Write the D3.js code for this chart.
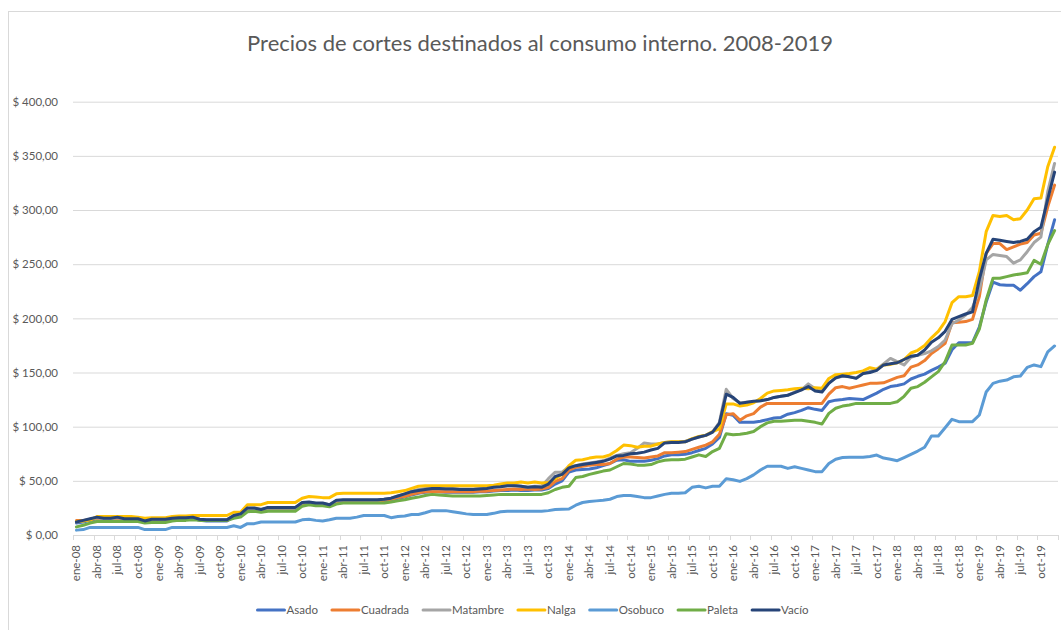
<!DOCTYPE html>
<html>
<head>
<meta charset="utf-8">
<script src="https://cdn.jsdelivr.net/npm/d3@7"></script>
<style>
  body { margin: 0; background: #fff; }
  svg text { font-family: Lato, "Open Sans", sans-serif; fill: #595959; }
</style>
</head>
<body>
<svg id="chart" width="1061" height="630"></svg>
<script>
// categories
const years = [2008, 2009, 2010, 2011, 2012, 2013, 2014, 2015, 2016, 2017, 2018, 2019];
const monthNames = ["ene", "feb", "mar", "abr", "may", "jun", "jul", "ago", "sep", "oct", "nov", "dic"];
const yTicks = [0, 50, 100, 150, 200, 250, 300, 350, 400];

const seriesNames = ["Asado", "Cuadrada", "Matambre", "Nalga", "Osobuco", "Paleta", "Vacío"];
const seriesColors = ["#4472C4", "#ED7D31", "#A5A5A5", "#FFC000", "#5B9BD5", "#70AD47", "#264478"];

// monthly prices, one row per year (ene..dic)
const asado = [
  11, 12, 13.5, 15, 14.5, 14.5, 15, 14.5, 14.5, 14.5, 13, 13.5,
  13.5, 13.5, 14.5, 15, 15, 15.5, 13.5, 13, 13, 13, 13, 16.5,
  18, 23.5, 23.5, 22.5, 24.5, 24.5, 24.5, 24.5, 24.5, 28, 29, 28,
  28, 27, 30, 30.5, 30.5, 30.5, 30.5, 30.5, 30.5, 31.5, 32.5, 34,
  35, 37, 38.5, 39.5, 40, 40, 39.5, 39.5, 39.5, 39.5, 39.5, 40,
  40, 40.5, 41, 41, 41.5, 41, 41, 41.5, 41.5, 43, 47, 50,
  58, 60, 60.5, 61, 62, 64, 66, 69, 69.5, 68, 68, 68,
  69, 70.5, 73, 74, 74, 74.5, 76, 78, 80, 84, 90, 112,
  110.5, 104, 104, 104, 105, 106.5, 108, 108.5, 111.5, 113, 115, 117.5,
  116, 115, 123, 124.5, 125, 126, 125.5, 125, 128, 131, 134.5, 137,
  138, 139.5, 144, 146.5, 148.5, 152, 155, 158.5, 171, 177.5, 177.5, 177.5,
  192, 215, 233.5, 231, 230.5, 230.5, 226, 232, 238.5, 243, 268, 291
];
const cuadrada = [
  13.5, 13.5, 14, 15.5, 15, 15, 15.5, 15, 15, 15, 13.5, 14,
  14, 14, 15, 15.5, 15.5, 16, 14, 13.5, 13.5, 13.5, 13.5, 17,
  18.5, 24, 24, 23, 25, 25, 25, 25, 25, 28.5, 29.5, 28.5,
  28.5, 27.5, 30.5, 31, 31, 31, 31, 31, 31, 32, 33, 34.5,
  35.5, 37.5, 39, 40, 40, 40, 40, 40, 40, 40, 40, 40.5,
  40.5, 41, 41.5, 42, 42.5, 42, 42.5, 42, 42.5, 44, 49.5, 52,
  60, 62.5, 63.5, 64.5, 65, 65, 66, 70, 72, 72, 71.5, 71,
  72, 73, 76, 76, 76.5, 77, 79, 81, 83, 86, 93, 111,
  112, 106, 110, 112, 118, 121.5, 121.5, 121.5, 121.5, 121.5, 121.5, 121.5,
  121.5, 121.5, 130, 136, 137, 135.5, 137, 138.5, 140, 140, 140.5, 143,
  145.5, 147, 155, 157, 161, 167.5, 172, 177, 196, 196.5, 197, 199,
  220, 260, 269, 269, 263.5, 266, 268.5, 270, 277, 278.5, 303, 323
];
const matambre = [
  12, 13, 14.5, 16, 15, 15, 16, 15, 15, 15, 13.5, 14.5,
  14.5, 14.5, 15.5, 16, 16, 16.5, 14.5, 14, 14, 14, 14, 18,
  19, 24.5, 24.5, 23.5, 25, 25, 25, 25, 25, 29.5, 30, 29,
  29, 28, 31.5, 32, 32, 32, 32, 32, 32, 33, 34, 36,
  38, 40.5, 42, 43, 44, 44, 43, 43, 42.5, 42.5, 42.5, 43,
  43.5, 44.5, 45, 45.5, 46, 45, 44, 45, 45, 52, 58, 58,
  63, 64, 65.5, 66.5, 67.5, 68.5, 71, 73.5, 75, 76, 80, 85,
  84, 84, 85.5, 86, 86, 86.5, 88.5, 90.5, 92, 95, 104, 134.5,
  126, 122, 122.5, 123, 124, 125, 127, 128, 129, 132, 134, 139.5,
  135, 133, 140.5, 145, 146.5, 146, 145, 149, 151, 153, 158, 163,
  160, 157, 164, 166, 167.5, 170, 174, 180, 195, 198.5, 203, 210,
  226, 254, 259, 258, 257, 251, 254, 261.5, 270, 275, 317, 343
];
const nalga = [
  12.5, 13, 14, 17, 17, 17, 17, 17, 17, 16.5, 15.5, 16,
  16, 16, 17, 17.5, 17.5, 18, 18, 18, 18, 18, 18, 21,
  21, 28, 28, 28, 30, 30, 30, 30, 30, 34, 35.5, 35,
  34.5, 34.5, 38, 38.5, 38.5, 38.5, 38.5, 38.5, 38.5, 38.5, 39, 40,
  41, 43, 45, 45.5, 45.5, 45.5, 45.5, 45.5, 45.5, 45.5, 45.5, 45.5,
  45.5, 46, 47, 48, 48, 49, 48, 49, 48, 48.5, 52, 56,
  64, 69, 69.5, 71, 72, 72, 74, 78, 83, 82.5, 81, 82,
  82, 84, 85.5, 86, 86, 86, 89, 91, 92, 95.5, 98, 121,
  121, 119, 120, 122, 126, 131, 133, 133.5, 134, 135, 135.5, 135,
  136, 135.5, 144.5, 148, 148.5, 149, 150, 151.5, 154.5, 153, 157, 157.5,
  159, 162, 168, 170.5, 175, 182, 188, 197, 214.5, 220, 220, 221,
  243, 280, 295, 294, 295, 291, 292, 300, 310.5, 311, 340, 358
];
const osobuco = [
  4.5, 5, 7, 7, 7, 7, 7, 7, 7, 7, 5, 5,
  5, 5, 7, 7, 7, 7, 7, 7, 7, 7, 7, 8.5,
  7, 10.5, 10.5, 12, 12, 12, 12, 12, 12, 14, 14.5, 13.5,
  13, 14, 15.5, 15.5, 15.5, 16.5, 18, 18, 18, 18, 16, 17,
  17.5, 19, 19, 20.5, 22.5, 22.5, 22.5, 21.5, 20.5, 19.5, 19, 19,
  19, 20, 21.5, 22, 22, 22, 22, 22, 22, 22.5, 23.5, 23.8,
  24, 27.5, 30, 31, 31.5, 32, 33, 35.5, 36.5, 36.5, 35.5, 34.5,
  34.5, 36, 37.5, 38.5, 38.5, 39, 44, 45, 43.5, 45, 45, 52,
  51, 49.5, 52, 55.5, 60, 63.5, 63.5, 63.5, 61.5, 63, 61.5, 60,
  58.5, 58.5, 66, 70, 71.5, 71.7, 71.7, 71.7, 72.5, 73.8, 71, 70,
  68.6, 71.5, 74.5, 77.5, 81, 91.4, 91.4, 99, 106.8, 104.6, 104.6, 104.6,
  110.8, 132, 140, 142, 143, 146, 146.8, 154.8, 157, 155.4, 169, 174.5
];
const paleta = [
  7.5, 9, 11, 12.5, 12.5, 12.5, 12.5, 12.5, 12.5, 12.5, 11, 11.5,
  11.5, 11.5, 13, 13.5, 13.5, 14, 13.5, 13.5, 13.5, 13.5, 13.5, 15.5,
  16.5, 21.5, 22, 21, 22, 22, 22, 22, 22, 26.5, 28, 27,
  27, 26, 28.5, 29.5, 29.5, 29.5, 29.5, 29.5, 29.5, 29.5, 30.5, 31.5,
  32.5, 34, 35, 36.5, 37.5, 37, 36.5, 36, 36, 36, 36, 36,
  36.5, 37, 37.5, 37.5, 37.5, 37.5, 37.5, 37.5, 37.5, 39, 42, 44,
  45, 53, 54, 56, 57.5, 59, 60, 63, 66, 65.5, 64.5, 64.5,
  65, 67.5, 69, 69.5, 69.5, 70, 72, 74, 72.5, 77, 80, 93.5,
  92.5, 93, 94, 95.5, 100, 103.5, 105, 105, 105.5, 106, 106, 105,
  104, 102.5, 112.3, 117, 119, 120, 121.5, 121.5, 121.5, 121.5, 121.5, 121.5,
  123, 128, 135.4, 137, 141, 146, 150.8, 160, 175.4, 175.4, 175.4, 177,
  190, 217, 237, 237, 238.5, 240, 241, 242, 253.5, 250, 268, 281
];
const vacio = [
  12, 13.5, 15, 16.5, 15.5, 15.5, 16.5, 15, 15, 15, 13, 14.5,
  14.5, 14.5, 15.5, 16, 16, 16.5, 14.5, 14, 14, 14, 14, 18,
  19.5, 25, 25, 23.5, 25.5, 25.5, 25.5, 25.5, 25.5, 30, 30.5, 29.5,
  29.5, 28, 32, 32.5, 32.5, 32.5, 32.5, 32.5, 32.5, 33, 34, 36,
  38, 40, 41, 42, 43, 43, 42.5, 42.5, 42, 42, 42, 42.5,
  43, 44, 44.5, 45.5, 45.5, 45, 44, 44.5, 44, 47, 54, 56,
  62, 64, 65, 66, 67, 68, 70, 73, 73.5, 75, 75.5, 76.5,
  78.5, 80, 85, 85.5, 85.5, 86, 88.5, 90.5, 92, 95, 103, 130,
  127, 121.5, 122.5, 123.5, 124, 125, 127, 128, 129, 131.5, 134, 137,
  133, 132, 140, 145, 147, 146, 144.6, 149, 150, 152, 157, 158,
  159, 162, 165, 166, 170.8, 178, 182, 188, 199, 201.5, 204, 206,
  236, 260, 273, 272, 271, 270, 271, 273, 280, 284, 310, 335
];
const seriesValues = [asado, cuadrada, matambre, nalga, osobuco, paleta, vacio];

const categories = years.flatMap(yr => monthNames.map(m => m + "-" + String(yr).slice(2)));

const svg = d3.select("#chart");
const plotLeft = 73, plotRight = 1058, plotTop = 101.7, plotBottom = 535;

const x = d3.scaleBand().domain(categories).range([plotLeft, plotRight]);
const y = d3.scaleLinear().domain([0, 400]).range([plotBottom, plotTop]);

const esAR = d3.formatLocale({ decimal: ",", thousands: ".", grouping: [3], currency: ["$ ", ""] });
const money = esAR.format("$,.2f");

// chart frame (only top and left edges fall inside the picture)
svg.append("rect")
  .attr("x", 8.5).attr("y", 11.5).attr("width", 1200).attr("height", 800)
  .attr("fill", "none").attr("stroke", "#d9d9d9");

// title
const title = svg.append("text")
  .attr("x", 540).attr("y", 51)
  .attr("text-anchor", "middle")
  .style("font-size", "22px")
  .text("Precios de cortes destinados al consumo interno. 2008-2019");
const tw = title.node().getComputedTextLength();
title.style("font-size", (22 * 586 / tw) + "px");

// y axis with gridlines
const yAxis = svg.append("g")
  .attr("transform", `translate(${plotLeft},0)`)
  .call(d3.axisLeft(y).tickValues(yTicks).tickSize(-(plotRight - plotLeft)).tickPadding(15).tickFormat(money));
yAxis.select(".domain").remove();
yAxis.selectAll(".tick line").attr("stroke", "#d9d9d9").attr("stroke-width", 1);
yAxis.selectAll(".tick text").style("font-size", "11.5px").attr("fill", "#595959");

// x axis: labels every 3 months, tick marks on category boundaries
const labelCats = categories.filter((c, i) => i % 3 === 0);
const xAxis = svg.append("g")
  .attr("transform", `translate(0,${plotBottom})`)
  .call(d3.axisBottom(x).tickValues(labelCats).tickSize(0));
xAxis.select(".domain").attr("stroke", "#d9d9d9");
xAxis.selectAll(".tick text")
  .attr("transform", "rotate(-90)")
  .attr("x", -10).attr("y", 0).attr("dy", "0.35em")
  .attr("text-anchor", "end")
  .style("font-size", "11.5px")
  .attr("fill", "#595959");

const boundaries = labelCats.map(c => x(c)).concat([plotRight]);
svg.append("g").selectAll("line").data(boundaries).join("line")
  .attr("x1", d => Math.round(d) + 0.5).attr("x2", d => Math.round(d) + 0.5)
  .attr("y1", plotBottom).attr("y2", plotBottom + 5)
  .attr("stroke", "#d9d9d9");

// series lines
const line = d3.line()
  .x((d, i) => x(categories[i]) + x.bandwidth() / 2)
  .y(d => y(d));

svg.append("g").selectAll("path")
  .data(seriesValues)
  .join("path")
  .attr("d", line)
  .attr("fill", "none")
  .attr("stroke", (d, i) => seriesColors[i])
  .attr("stroke-width", 3)
  .attr("stroke-linejoin", "round")
  .attr("stroke-linecap", "round");

// legend
const legend = svg.append("g");
const items = legend.selectAll("g").data(seriesNames).join("g");
items.append("line")
  .attr("x1", 0).attr("x2", 27).attr("y1", 0).attr("y2", 0)
  .attr("stroke", (d, i) => seriesColors[i])
  .attr("stroke-width", 3)
  .attr("stroke-linecap", "round");
items.append("text")
  .attr("x", 29).attr("dy", "0.35em")
  .style("font-size", "11.5px")
  .text(d => d);

let offset = 0;
const widths = [];
items.each(function () {
  widths.push(29 + this.querySelector("text").getComputedTextLength());
});
const gap = 14;
const total = d3.sum(widths) + gap * (widths.length - 1);
const startX = 533 - total / 2;
items.attr("transform", (d, i) => {
  const tx = startX + offset;
  offset += widths[i] + gap;
  return `translate(${tx},610)`;
});
</script>
</body>
</html>
